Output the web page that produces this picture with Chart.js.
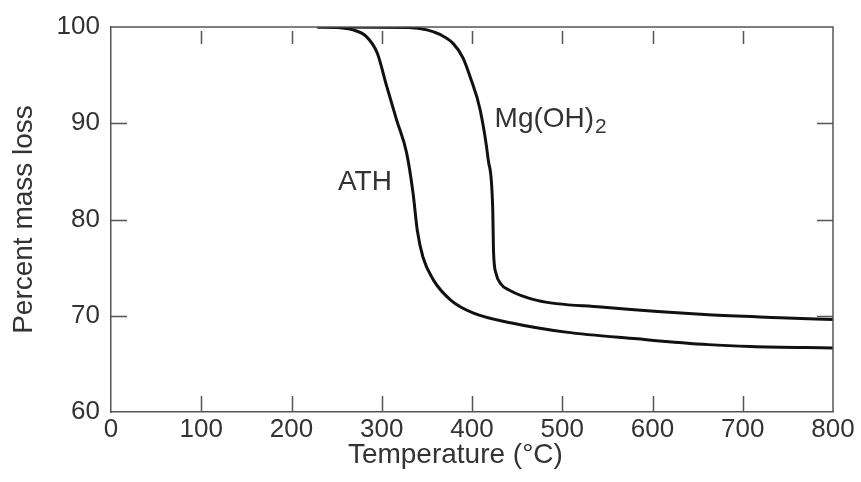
<!DOCTYPE html>
<html>
<head>
<meta charset="utf-8">
<script src="https://cdn.jsdelivr.net/npm/chart.js@4.4.1/dist/chart.umd.min.js"></script>
<style>
  html, body { margin: 0; padding: 0; background: #fff; }
  #wrap { width: 861px; height: 482px; }
</style>
</head>
<body>
<div id="wrap"><canvas id="tga"></canvas></div>
<script>
// TGA curves, temperature (°C) vs remaining mass (%)
const tempATH = [228, 250, 268, 283, 295, 305.6, 316.6, 327.6, 334.6, 339.5, 345.6, 357.3, 376.7, 401, 444, 504, 583, 662, 709, 800];
const massATH = [100, 99.95, 99.7, 99.0, 97.3, 93.8, 90.3, 86.9, 82.8, 78.8, 76.1, 73.7, 71.6, 70.3, 69.25, 68.3, 67.6, 67.0, 66.8, 66.65];

const tempMg = [230, 330, 350, 365, 379, 390, 398, 409, 418, 423, 423.8, 426.6, 432, 440.4, 472, 543, 662, 741, 800];
const massMg = [100, 99.95, 99.7, 99.2, 98.3, 96.8, 94.8, 91.4, 86.2, 81.0, 76.8, 74.4, 73.3, 72.7, 71.6, 70.9, 70.1, 69.8, 69.6];

const xTicks = [0, 100, 200, 300, 400, 500, 600, 700, 800];
const yTicks = [60, 70, 80, 90, 100];

// curve labels, anchored in data units
const curveLabels = [
  { text: "ATH", sub: "", x: 251.5, y: 83.1 },
  { text: "Mg(OH)", sub: "2", x: 425, y: 89.6 }
];

const FONT = "'Liberation Sans', Arial, sans-serif";
const TEXT = "#333";
const AXIS = "#555";

const toPts = (xs, ys) => xs.map((x, i) => ({ x: x, y: ys[i] }));

// inward ticks on all four sides, top/right frame, labels
const frameTicks = {
  id: "frameTicks",
  afterDatasetsDraw(chart) {
    const { ctx, chartArea: a } = chart;
    const sx = chart.scales.x, sy = chart.scales.y;
    ctx.save();
    ctx.strokeStyle = AXIS;
    ctx.lineWidth = 1.5;
    ctx.beginPath();
    ctx.moveTo(a.left, a.top);
    ctx.lineTo(a.right, a.top);
    ctx.lineTo(a.right, a.bottom);
    xTicks.slice(1, -1).forEach((v) => {
      const px = Math.round(sx.getPixelForValue(v)) + 0.5;
      ctx.moveTo(px, a.bottom);
      ctx.lineTo(px, a.bottom - 16);
      ctx.moveTo(px, a.top + 4);
      ctx.lineTo(px, a.top + 17);
    });
    yTicks.slice(1, -1).forEach((v) => {
      const py = Math.round(sy.getPixelForValue(v)) + 0.5;
      ctx.moveTo(a.left, py);
      ctx.lineTo(a.left + 16, py);
      ctx.moveTo(a.right, py);
      ctx.lineTo(a.right - 16, py);
    });
    ctx.stroke();

    ctx.fillStyle = TEXT;
    ctx.textBaseline = "alphabetic";
    ctx.textAlign = "left";
    curveLabels.forEach((l) => {
      const px = sx.getPixelForValue(l.x);
      const py = sy.getPixelForValue(l.y);
      ctx.font = "28px " + FONT;
      ctx.fillText(l.text, px, py);
      if (l.sub) {
        const w = ctx.measureText(l.text).width;
        ctx.font = "21px " + FONT;
        ctx.fillText(l.sub, px + w + 1, py + 6);
      }
    });

    // x axis title, sits a little left of the plot centre
    ctx.font = "28px " + FONT;
    ctx.textAlign = "center";
    ctx.textBaseline = "middle";
    ctx.fillText("Temperature (°C)", a.left + (a.right - a.left) * 0.477, 455);
    ctx.restore();
  },
};

new Chart(document.getElementById("tga"), {
  type: "line",
  plugins: [frameTicks],
  data: {
    datasets: [
      {
        label: "ATH",
        data: toPts(tempATH, massATH),
        borderColor: "#111",
        borderWidth: 3,
        pointRadius: 0,
        cubicInterpolationMode: "monotone",
      },
      {
        label: "Mg(OH)2",
        data: toPts(tempMg, massMg),
        borderColor: "#111",
        borderWidth: 3,
        pointRadius: 0,
        cubicInterpolationMode: "monotone",
      },
    ],
  },
  options: {
    responsive: true,
    maintainAspectRatio: false,
    animation: false,
    layout: { padding: { top: 27, right: 28, left: 0, bottom: 0 } },
    plugins: {
      legend: { display: false },
      tooltip: { enabled: false },
    },
    scales: {
      x: {
        type: "linear",
        min: 0,
        max: 800,
        afterFit: (s) => { s.height = 70; },
        afterBuildTicks: (s) => { s.ticks = xTicks.map((v) => ({ value: v })); },
        grid: { display: true, drawOnChartArea: false, drawTicks: false },
        border: { display: true, color: AXIS, width: 1.5 },
        ticks: {
          color: TEXT,
          padding: 2,
          maxRotation: 0,
          font: { family: FONT, size: 26 },
        },
      },
      y: {
        min: 60,
        max: 100,
        afterFit: (s) => { s.width = 111; },
        afterBuildTicks: (s) => { s.ticks = yTicks.map((v) => ({ value: v })); },
        grid: { display: true, drawOnChartArea: false, drawTicks: false },
        border: { display: true, color: AXIS, width: 1.5 },
        ticks: {
          color: TEXT,
          padding: 11,
          font: { family: FONT, size: 26 },
        },
        title: {
          display: true,
          text: "Percent mass loss",
          color: TEXT,
          padding: { top: 7, bottom: 0 },
          font: { family: FONT, size: 28 },
        },
      },
    },
  },
});
</script>
</body>
</html>
